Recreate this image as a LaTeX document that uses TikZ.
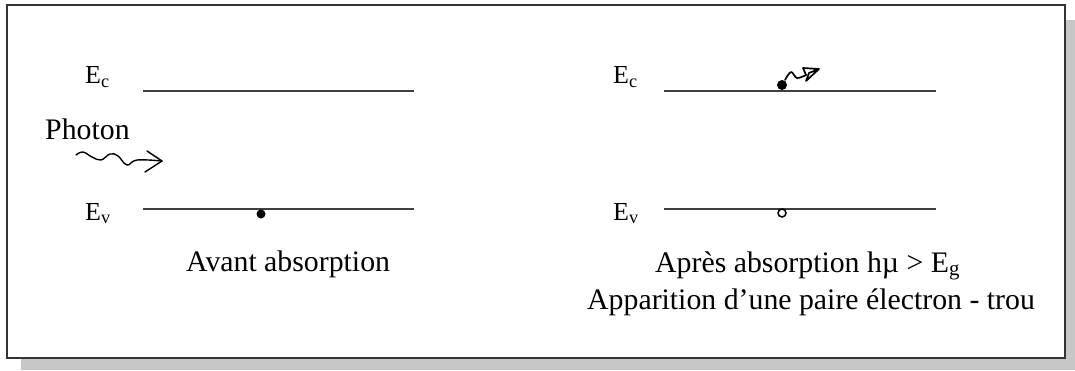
\documentclass[tikz,border=0pt]{standalone}
\usepackage{fontspec}
\setmainfont{Liberation Serif}
\begin{document}
\begin{tikzpicture}[x=1pt,y=1pt,
  lvl/.style={draw=black!75,line width=1.2pt},
  big/.style={inner sep=0pt,anchor=base west,font=\fontsize{29.8}{34}\selectfont},
  elab/.style={inner sep=0pt,anchor=base west,font=\fontsize{26}{30}\selectfont},
  wave/.style={draw=black,line width=1.4pt,line cap=round,line join=round}]
\useasboundingbox (0,0) rectangle (1075,370);
% shadow and frame
\fill[black!22] (21,0) rectangle (1075,350);
\draw[fill=white,draw=black!80,line width=1.5pt] (7,12) rectangle (1065,365);
% left panel
\node[elab] (ecl) at (85,286) {E\textsubscript{c}};
\node[elab] (evl) at (85,150) {E\textsubscript{v}};
\coordinate (lc1) at (143,279); \coordinate (lc2) at (414,279);
\coordinate (lv1) at (143,161); \coordinate (lv2) at (414,161);
\draw[lvl] (lc1) -- (lc2);
\draw[lvl] (lv1) -- (lv2);
\node[circle,fill=black,inner sep=0pt,minimum size=9pt] (el1) at (261,156) {};
\node[big] (ph) at (45,230) {Photon};
\coordinate (pw) at (76,215);
\coordinate (pt) at (162,209);
\draw[wave] plot[smooth,tension=0.7] coordinates {(76,215) (83,218) (92,213) (101,210) (110,216) (118,214) (127,205) (137,210) (162,209)};
\draw[wave] (147,219) -- (pt) -- (145,198);
\node[big] (av) at (186,99) {Avant absorption};
% right panel
\node[elab] (ecr) at (613,286) {E\textsubscript{c}};
\node[elab] (evr) at (613,150) {E\textsubscript{v}};
\coordinate (rc1) at (664,279); \coordinate (rc2) at (936,279);
\coordinate (rv1) at (664,161); \coordinate (rv2) at (936,161);
\draw[lvl] (rc1) -- (rc2);
\draw[lvl] (rv1) -- (rv2);
\node[circle,fill=black,inner sep=0pt,minimum size=10pt] (el2) at (782,285) {};
\node[circle,draw=black,line width=1.5pt,fill=white,inner sep=0pt,minimum size=8pt] (hole) at (782,157) {};
\coordinate (et) at (819,301);
\draw[wave,line width=1.7pt] plot[smooth,tension=0.6] coordinates {(785,290) (791,298) (797,292) (806,295)};
\draw[wave,line width=1.7pt] (806,295) -- (803,302) -- (et) -- (806,289) -- (809,297) -- (et);
\node[big] (ap) at (655,98) {Après absorption\ h\textmu\ >\ E\textsubscript{g}};
\node[big] (pair) at (587,61) {Apparition d’une paire électron - trou};
\end{tikzpicture}
\end{document}
